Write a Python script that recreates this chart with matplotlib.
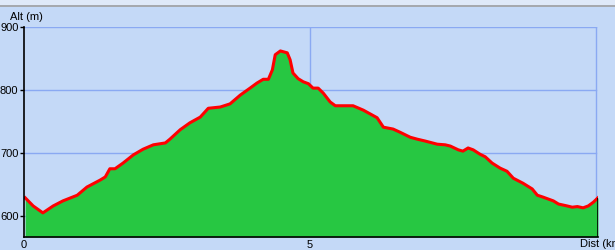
import matplotlib
matplotlib.use('Agg')
import matplotlib.pyplot as plt
from matplotlib.patches import Rectangle
from matplotlib.lines import Line2D

plt.rcParams['font.family'] = ['Liberation Sans', 'DejaVu Sans']

# Elevation profile (km, m)
dist_km = [0.02, 0.16, 0.33, 0.51, 0.68, 0.93, 1.10, 1.33, 1.42, 1.50, 1.59,
           1.73, 1.91, 2.08, 2.26, 2.47, 2.55, 2.73, 2.90, 3.08, 3.22, 3.43,
           3.60, 3.78, 3.95, 4.07, 4.18, 4.27, 4.34, 4.39, 4.48, 4.60, 4.65,
           4.70, 4.79, 4.88, 4.97, 5.05, 5.14, 5.23, 5.35, 5.44, 5.75, 5.93,
           6.17, 6.28, 6.45, 6.57, 6.75, 6.87, 7.01, 7.22, 7.36, 7.45, 7.59,
           7.67, 7.76, 7.85, 7.97, 8.06, 8.18, 8.32, 8.44, 8.55, 8.72, 8.88,
           8.97, 9.07, 9.25, 9.34, 9.49, 9.58, 9.67, 9.77, 9.86, 9.95, 10.03]
alt_m = [629, 616, 605, 616, 624, 633, 646, 657, 662, 675, 675,
         684, 697, 706, 713, 716, 722, 737, 748, 757, 771, 773,
         778, 792, 803, 811, 817, 817, 832, 856, 862, 859, 848,
         827, 818, 813, 810, 803, 803, 795, 781, 775, 775, 768,
         756, 741, 738, 733, 725, 722, 719, 714, 713, 711, 705,
         703, 708, 705, 698, 694, 684, 676, 671, 660, 652, 643,
         633, 630, 624, 619, 616, 614, 615, 613, 616, 622, 629]

y_ticks = [600, 700, 800, 900]
x_ticks = [0, 5]

BG = '#c4d9f7'
GRID = '#8aa9f2'
FILL = '#27c742'
Y0 = 566.7

W, H = 615, 250
fig = plt.figure(figsize=(W / 100, H / 100), dpi=100, facecolor=BG)

# thin window band at the top
fig.patches.append(Rectangle((0, 1 - 5 / H), 1, 5 / H, transform=fig.transFigure,
                             facecolor='#dfe9f8', edgecolor='none'))
fig.lines.append(Line2D([0, 1], [1 - 5.5 / H] * 2, transform=fig.transFigure,
                        color='#a0a0a0', linewidth=1.2))

ax = fig.add_axes([24 / W, 13 / H, 574 / W, 210 / H], facecolor=BG)
ax.set_xlim(0, 10.03)
ax.set_ylim(Y0, 900)

for v in y_ticks:
    ax.axhline(v, color=GRID, linewidth=1, zorder=0, xmax=10 / 10.03)
for v in [5, 10]:
    ax.axvline(v, color=GRID, linewidth=1, zorder=0)

ax.fill_between(dist_km, alt_m, Y0, color=FILL, linewidth=0, zorder=2)
ax.plot(dist_km, alt_m, color='#ff0000', linewidth=2.2, zorder=3,
        solid_joinstyle='round')
ax.vlines(dist_km[-1], Y0, alt_m[-1], color='black', linewidth=1.2, zorder=4)

for s in ['top', 'right']:
    ax.spines[s].set_visible(False)
for s in ['left', 'bottom']:
    ax.spines[s].set_color('black')
    ax.spines[s].set_linewidth(1.2)
    ax.spines[s].set_zorder(5)

ax.set_yticks(y_ticks)
ax.set_xticks(x_ticks)
ax.tick_params(axis='both', length=3, width=1, labelsize=8, pad=1, colors='black')
ax.tick_params(axis='x', length=0, pad=2)

fig.text(10 / W, 1 - 17 / H, 'Alt (m)', fontsize=8, va='center', ha='left')
fig.text(580 / W, 1 - 244 / H, 'Dist (km)', fontsize=8, va='center', ha='left')

fig.savefig('out.png', dpi=100, facecolor=BG)
